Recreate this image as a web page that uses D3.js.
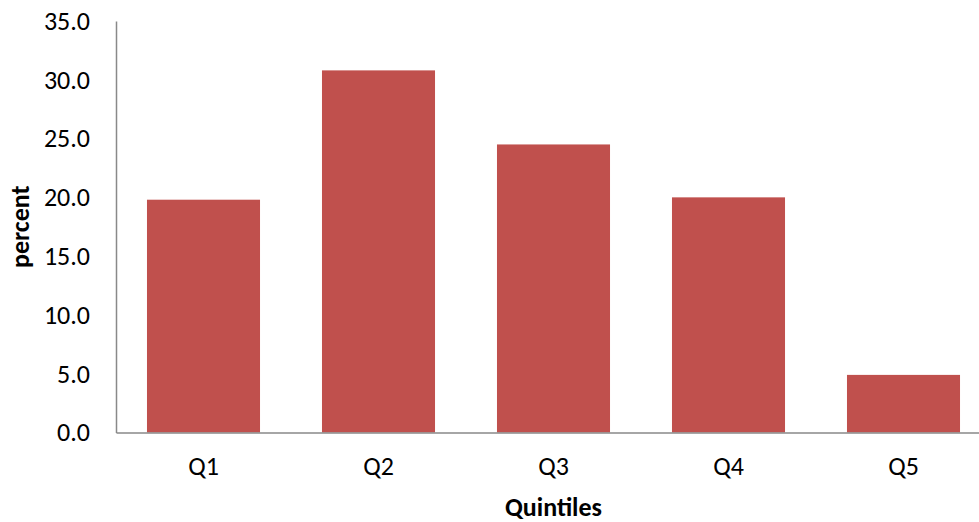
<!DOCTYPE html>
<html>
<head>
<meta charset="utf-8">
<script src="https://cdn.jsdelivr.net/npm/d3@7"></script>
<style>
  html, body { margin: 0; padding: 0; background: #fff; overflow: hidden; }
  svg { display: block; }
  text { font-family: Carlito, Lato, "Open Sans", sans-serif; fill: #000; }
</style>
</head>
<body>
<script>
// Share of households by income quintile
const categories = ["Q1", "Q2", "Q3", "Q4", "Q5"];
const percentValues = [19.8, 30.8, 24.5, 20.0, 4.9];
const yTicks = [0, 5, 10, 15, 20, 25, 30, 35];
const xTitle = "Quintiles";
const yTitle = "percent";

const W = 979, H = 522;
const plot = { left: 116, right: 991, top: 21, bottom: 432.5 };
const barColor = "#C0504D";
const axisColor = "#898989";
const fontStack = "Carlito, Lato, 'Open Sans', sans-serif";
const labelSize = 26;

const svg = d3.select("body").append("svg")
  .attr("width", W).attr("height", H);

const x = d3.scaleBand()
  .domain(categories)
  .range([plot.left, plot.right])
  .paddingInner(0.354)
  .paddingOuter(0.177);

const y = d3.scaleLinear()
  .domain([0, 35])
  .range([plot.bottom, plot.top]);

// bars
svg.append("g")
  .selectAll("rect")
  .data(categories.map((c, i) => ({ c, v: percentValues[i] })))
  .join("rect")
  .attr("x", d => x(d.c))
  .attr("y", d => y(d.v))
  .attr("width", x.bandwidth())
  .attr("height", d => y(0) - y(d.v))
  .attr("fill", barColor);

// y axis
const gy = svg.append("g")
  .attr("transform", `translate(${plot.left},0)`)
  .call(d3.axisLeft(y).tickValues(yTicks).tickFormat(d3.format(".1f")).tickSize(0).tickPadding(26));
gy.select(".domain").attr("stroke", axisColor).attr("stroke-width", 1.5);
gy.selectAll(".tick text")
  .attr("font-size", labelSize)
  .attr("font-family", fontStack)
  .attr("fill", "#000")
  .attr("dy", "0.32em");

// x axis
const gx = svg.append("g")
  .attr("transform", `translate(0,${plot.bottom})`)
  .call(d3.axisBottom(x).tickSize(0).tickPadding(0));
gx.select(".domain").attr("stroke", axisColor).attr("stroke-width", 1.5);
gx.selectAll(".tick text")
  .attr("font-size", labelSize)
  .attr("font-family", fontStack)
  .attr("fill", "#000")
  .attr("y", 42.5)
  .attr("dy", 0);

// axis titles
svg.append("text")
  .attr("x", (plot.left + plot.right) / 2)
  .attr("y", 516)
  .attr("text-anchor", "middle")
  .attr("font-size", labelSize)
  .attr("font-weight", "bold")
  .text(xTitle);

svg.append("text")
  .attr("transform", `translate(29,${(plot.top + plot.bottom) / 2}) rotate(-90)`)
  .attr("text-anchor", "middle")
  .attr("font-size", labelSize)
  .attr("font-weight", "bold")
  .text(yTitle);
</script>
</body>
</html>
